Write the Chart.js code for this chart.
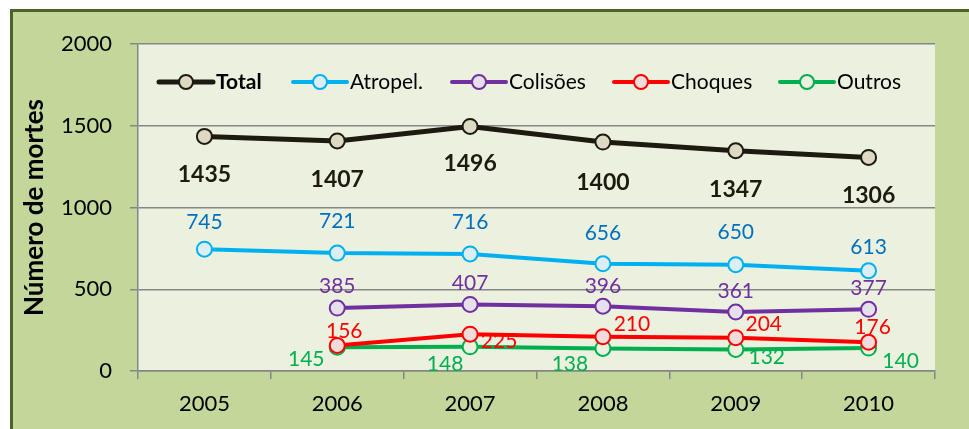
<!DOCTYPE html>
<html>
<head>
<meta charset="utf-8">
<script src="https://cdn.jsdelivr.net/npm/chart.js@4.4.1/dist/chart.umd.min.js"></script>
<style>
  html,body{margin:0;padding:0;background:#fff;}
  #frame{position:absolute;left:10px;top:9px;width:980px;height:440px;
    background:#c4d79b;border-top:3px solid #4f6228;border-left:3px solid #4f6228;}
  #wrap{position:absolute;left:0;top:0;width:969px;height:429px;}
</style>
</head>
<body>
<div id="frame"></div>
<div id="wrap"><canvas id="c"></canvas></div>
<script>
// ── data ─────────────────────────────────────────────
const years    = ['2005','2006','2007','2008','2009','2010'];
const total    = [1435,1407,1496,1400,1347,1306];
const atropel  = [745,721,716,656,650,613];
const colisoes = [null,385,407,396,361,377];
const choques  = [null,156,225,210,204,176];
const outros   = [null,145,148,138,132,140];
const yTicks   = [0,500,1000,1500,2000];

const FONT = 'Lato, "Open Sans", sans-serif';

// label offsets (px) per series, per point
const lblPos = {
  Total:     {color:'#1d1b10', bold:true,  size:23, off:[[0,38],[0,39],[0,37],[0,40],[0,39],[0,38]]},
  'Atropel.':{color:'#0070c0', bold:false, size:21, off:[[0,-27],[0,-32],[0,-32],[0,-31],[0,-32],[0,-24]]},
  'Colisões':{color:'#7030a0', bold:false, size:21, off:[[0,0],[0,-22],[0,-21],[0,-20],[0,-21],[0,-21]]},
  Choques:   {color:'#ff0000', bold:false, size:21, off:[[0,0],[7,-14],[29,7],[29,-12],[28,-13],[4,-15]]},
  Outros:    {color:'#00b050', bold:false, size:21, off:[[0,0],[-31,12],[-25,17],[-33,16],[31,8],[32,13]]}
};
// legend item start x, relative to the plot's left edge
const legendX = [21,155,314,476,642];

function ds(label, data, line, fill, width){
  return {label, data, borderColor:line, backgroundColor:fill,
    pointBackgroundColor:fill, pointBorderColor:line, pointBorderWidth:2,
    pointRadius:7.5, pointHoverRadius:7.5, borderWidth:width, tension:0, spanGaps:false};
}

// plot background
const plotBg = {
  id:'plotBg',
  beforeDraw(chart){
    const {ctx, chartArea:a} = chart;
    ctx.save(); ctx.fillStyle='#ebf1de';
    ctx.fillRect(a.left,a.top,a.right-a.left,a.bottom-a.top);
    ctx.restore();
  }
};

// data labels
const dataLabels = {
  id:'dataLabels',
  afterDatasetsDraw(chart){
    const ctx = chart.ctx;
    ctx.save();
    chart.data.datasets.forEach((d,i)=>{
      const cfg = lblPos[d.label];
      const meta = chart.getDatasetMeta(i);
      ctx.fillStyle = cfg.color;
      ctx.font = (cfg.bold?'bold ':'')+cfg.size+'px '+FONT;
      ctx.textAlign='center'; ctx.textBaseline='middle';
      meta.data.forEach((pt,j)=>{
        if(d.data[j]==null) return;
        const [dx,dy] = cfg.off[j];
        ctx.fillText(String(d.data[j]), pt.x+dx, pt.y+dy);
      });
    });
    ctx.restore();
  }
};

// legend inside the plot area
const inLegend = {
  id:'inLegend',
  afterDraw(chart){
    const {ctx, chartArea:a} = chart;
    const y = a.top+38;
    ctx.save();
    chart.data.datasets.forEach((d,i)=>{
      const x = a.left+legendX[i];
      ctx.strokeStyle=d.borderColor; ctx.lineWidth=d.borderWidth; ctx.lineCap='round';
      ctx.beginPath(); ctx.moveTo(x,y); ctx.lineTo(x+54,y); ctx.stroke();
      ctx.beginPath(); ctx.arc(x+27,y,7,0,Math.PI*2);
      ctx.fillStyle=d.backgroundColor; ctx.fill();
      ctx.lineWidth=2; ctx.stroke();
      ctx.fillStyle='#000';
      ctx.font=(i===0?'bold ':'')+'21px '+FONT;
      ctx.textAlign='left'; ctx.textBaseline='middle';
      ctx.fillText(d.label, x+57, y);
    });
    ctx.restore();
  }
};

new Chart(document.getElementById('c'), {
  type:'line',
  data:{
    labels:years,
    datasets:[
      ds('Total',   total,   '#1d1b10','#ddd9c3',5),
      ds('Atropel.',atropel, '#00b0f0','#dbeef4',4),
      ds('Colisões',colisoes,'#7030a0','#e5e0ec',4),
      ds('Choques', choques, '#ff0000','#f2dcdb',4),
      ds('Outros',  outros,  '#00b050','#ebf1de',4)
    ]
  },
  options:{
    responsive:true, maintainAspectRatio:false, animation:false,
    layout:{padding:{top:44,right:34,bottom:0,left:0}},
    plugins:{legend:{display:false}, tooltip:{enabled:false}},
    scales:{
      x:{
        offset:true,
        grid:{offset:true, drawOnChartArea:false, color:'#868686', lineWidth:1.5, tickLength:8},
        border:{color:'#868686', width:1.5},
        ticks:{color:'#000', font:{family:FONT,size:22}, padding:12},
        afterFit(s){ s.height = 58; }
      },
      y:{
        min:0, max:2000,
        afterBuildTicks(s){ s.ticks = yTicks.map(v=>({value:v})); },
        grid:{color:'#868686', lineWidth:1.5, tickLength:8},
        border:{color:'#868686', width:1.5},
        ticks:{color:'#000', font:{family:FONT,size:22}, padding:18, callback:v=>String(v)},
        title:{display:true, text:'Número de mortes', color:'#000',
          font:{family:FONT,size:26,weight:'bold'}, padding:{top:19,bottom:0}},
        afterFit(s){ s.width = 138; }
      }
    }
  },
  plugins:[plotBg, dataLabels, inLegend]
});
</script>
</body>
</html>
